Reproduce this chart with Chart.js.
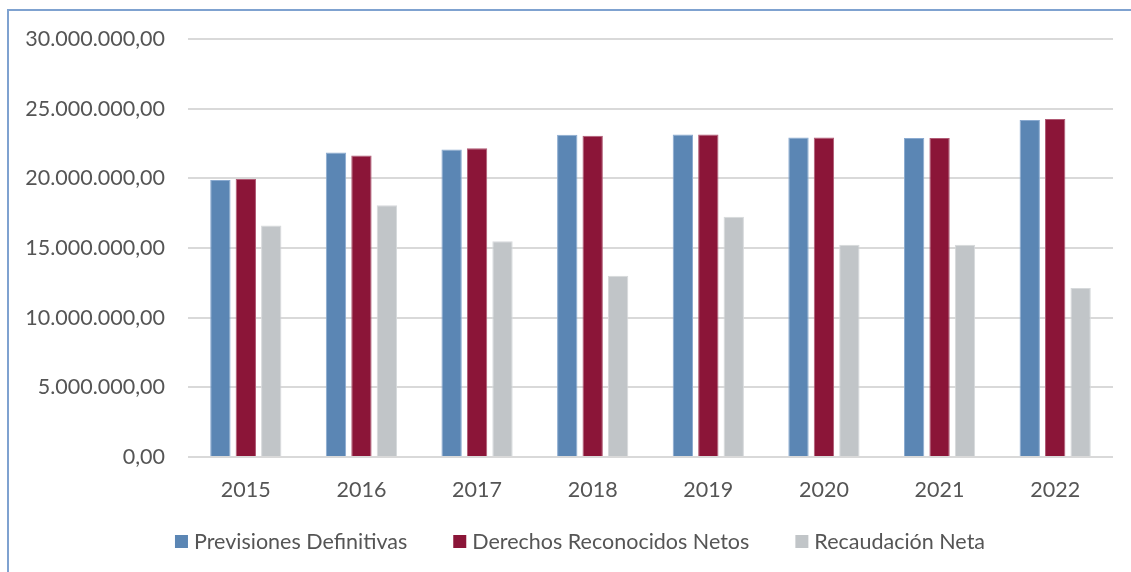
<!DOCTYPE html>
<html>
<head>
<meta charset="utf-8">
<script src="https://cdn.jsdelivr.net/npm/chart.js@4/dist/chart.umd.min.js"></script>
<style>
  html, body { margin: 0; padding: 0; background: #ffffff; }
  #wrap { position: relative; width: 1131px; height: 572px; overflow: hidden; }
  #frame { position: absolute; left: 7px; top: 9px; width: 1200px; height: 700px;
           border-left: 2px solid #7fa2d0; border-top: 2px solid #7fa2d0; }
  canvas { position: absolute; left: 0; top: 0; }
</style>
</head>
<body>
<div id="wrap">
  <div id="frame"></div>
  <canvas id="c" width="1131" height="572"></canvas>
</div>
<script>
const categories = ['2015', '2016', '2017', '2018', '2019', '2020', '2021', '2022'];
const seriesNames = ['Previsiones Definitivas', 'Derechos Reconocidos Netos', 'Recaudación Neta'];
const previsiones = [19880000, 21850000, 22070000, 23120000, 23150000, 22930000, 22900000, 24180000];
const derechos = [19950000, 21630000, 22160000, 23050000, 23150000, 22930000, 22900000, 24250000];
const recaudacion = [16610000, 18070000, 15480000, 13010000, 17250000, 15240000, 15240000, 12130000];
const yMin = 0, yMax = 30000000, yStep = 5000000;

function fmt(v) {
  const neg = v < 0;
  v = Math.abs(v);
  const intPart = Math.floor(v);
  const dec = Math.round((v - intPart) * 100);
  const s = String(intPart).replace(/\B(?=(\d{3})+(?!\d))/g, '.');
  return (neg ? '-' : '') + s + ',' + String(dec).padStart(2, '0');
}

const textColor = '#555555';
const fontFamily = 'Lato, "Open Sans", sans-serif';
const fontSize = 21.5;

// Custom bottom legend (drawn through the chart's own datasets)
const bottomLegend = {
  id: 'bottomLegend',
  afterDraw(chart) {
    const ctx = chart.ctx;
    const ds = chart.data.datasets;
    ctx.save();
    ctx.font = fontSize + 'px ' + fontFamily;
    ctx.textBaseline = 'middle';
    ctx.textAlign = 'left';
    const box = 13, gap = 6, spacing = 46;
    const widths = ds.map(d => ctx.measureText(d.label).width);
    const total = widths.reduce((a, w) => a + box + gap + w, 0) + spacing * (ds.length - 1);
    let x = 580 - total / 2;
    const cy = 541.5;
    ds.forEach((d, i) => {
      ctx.fillStyle = d.backgroundColor;
      ctx.fillRect(x, cy - box / 2, box, box);
      ctx.fillStyle = textColor;
      ctx.fillText(d.label, x + box + gap, cy + 1);
      x += box + gap + widths[i] + spacing;
    });
    ctx.restore();
  }
};

new Chart(document.getElementById('c'), {
  type: 'bar',
  data: {
    labels: categories,
    datasets: [
      { label: seriesNames[0], data: previsiones, backgroundColor: '#5b86b4', borderColor: '#8aaad0', borderWidth: 1 },
      { label: seriesNames[1], data: derechos, backgroundColor: '#8b1538', borderColor: '#b05a74', borderWidth: 1 },
      { label: seriesNames[2], data: recaudacion, backgroundColor: '#c1c5c8', borderColor: '#d6d9db', borderWidth: 1 }
    ]
  },
  plugins: [bottomLegend],
  options: {
    responsive: false,
    animation: false,
    devicePixelRatio: 1,
    layout: { padding: { left: 0, right: 18, top: 39, bottom: 69 } },
    datasets: { bar: { barPercentage: 0.8, categoryPercentage: 0.66 } },
    plugins: {
      tooltip: { enabled: false },
      legend: { display: false }
    },
    scales: {
      x: {
        grid: { display: false, drawTicks: false },
        border: { display: false },
        ticks: { color: textColor, font: { family: fontFamily, size: fontSize }, padding: 20 },
        afterFit: (s) => { s.height = 46; }
      },
      y: {
        min: yMin, max: yMax,
        grid: { color: '#d9d9d9', lineWidth: 2, drawTicks: false },
        border: { display: false },
        ticks: {
          stepSize: yStep,
          color: textColor,
          font: { family: fontFamily, size: fontSize },
          padding: 23,
          callback: (v) => fmt(v)
        },
        afterFit: (s) => { s.width = 188; }
      }
    }
  }
});
</script>
</body>
</html>
